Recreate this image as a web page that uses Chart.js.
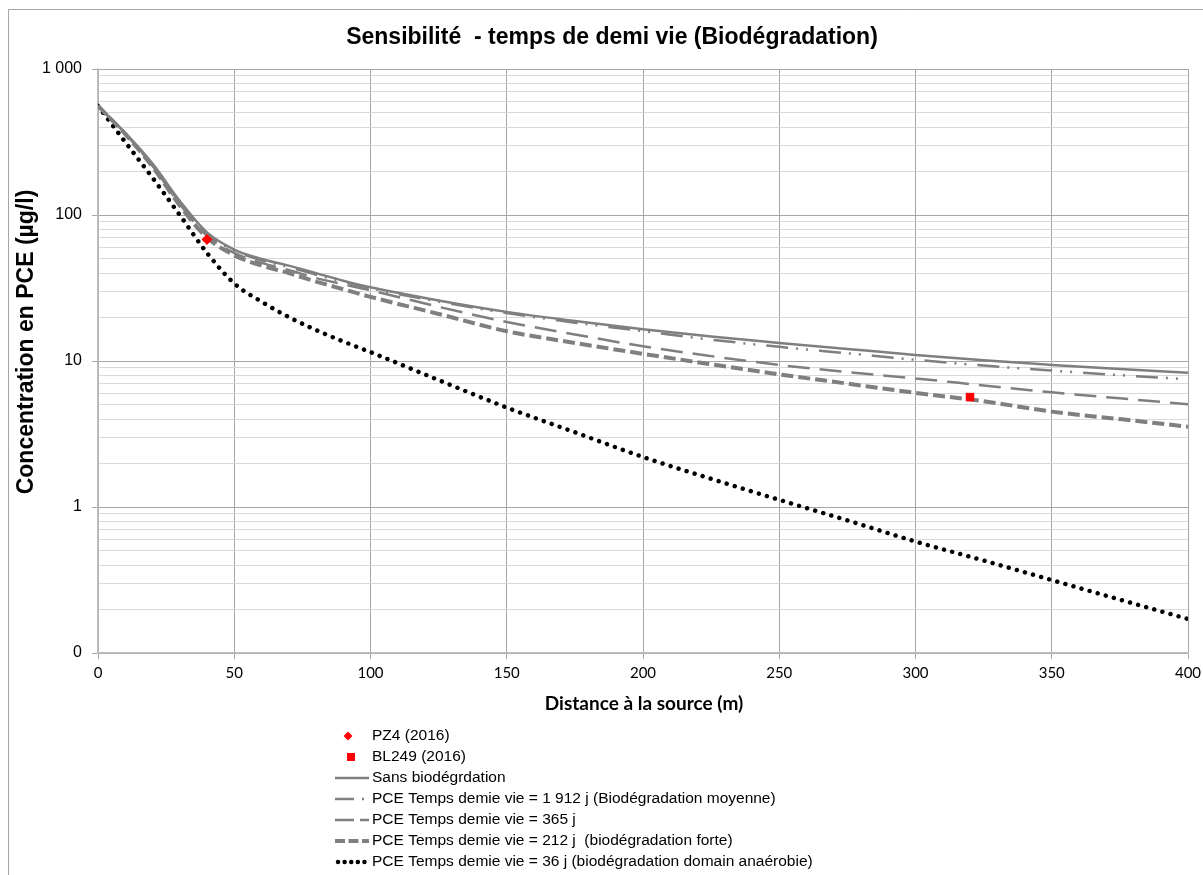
<!DOCTYPE html>
<html>
<head>
<meta charset="utf-8">
<script src="https://cdn.jsdelivr.net/npm/chart.js@4/dist/chart.umd.min.js"></script>
<style>
  html, body { margin: 0; padding: 0; background: #fff; }
  #wrap { width: 1203px; height: 875px; }
</style>
</head>
<body>
<div id="wrap"><canvas id="graf" width="1203" height="875"></canvas></div>
<script>
// distances (m)
const distances = [0, 10, 20, 30, 40, 50, 60, 70, 80, 90, 100, 125, 150, 175, 200, 225, 250, 275, 300, 325, 350, 375, 400];

// concentrations (µg/l)
const sansBio   = [558, 365, 225, 125, 76, 58, 50, 45, 40, 35.5, 32, 26, 21.7, 18.8, 16.5, 14.7, 13.3, 12.1, 11, 10.1, 9.4, 8.8, 8.3];
const demi1912  = [558, 362, 220, 122, 74, 57, 49, 44, 39, 35, 31.5, 25.5, 21.3, 18.3, 16, 14, 12.5, 11.3, 10.2, 9.3, 8.6, 8, 7.5];
const demi365   = [558, 360, 217, 119, 72, 55, 47, 42, 37, 33.5, 30.5, 23.5, 18.5, 15.2, 12.6, 10.8, 9.4, 8.4, 7.6, 6.8, 6.1, 5.55, 5.05];
const demi212   = [558, 358, 214, 116, 70, 53, 45, 40, 35, 31, 27.5, 21, 16, 13.3, 11.2, 9.5, 8.1, 7, 6.05, 5.3, 4.5, 4, 3.55];
const demi36    = [558, 316, 180, 100, 55, 34, 25.5, 20, 16.3, 13.6, 11.5, 7.4, 4.8, 3.25, 2.2, 1.56, 1.12, 0.81, 0.58, 0.43, 0.316, 0.232, 0.171];

// mesures 2016
const pz4   = [{ x: 40, y: 68 }];
const bl249 = [{ x: 320, y: 5.66 }];

// graduations de l'axe Y
const yMajorTicks  = [0.1, 1, 10, 100, 1000];
const yMajorLabels = ['0', '1', '10', '100', '1 000'];

const titre = 'Sensibilité  - temps de demi vie (Biodégradation)';
const titreY = 'Concentration en PCE (µg/l)';
const titreX = 'Distance à la source (m)';

function pts(vals) {
  return distances.map((d, i) => ({ x: d, y: vals[i] }));
}

function isMajor(v) {
  return yMajorTicks.some(m => Math.abs(m - v) / m < 1e-6);
}

const gris = '#7f7f7f';

const datasets = [
  { label: 'PZ4 (2016)', type: 'scatter', data: pz4, pointStyle: 'rectRot', pointRadius: 5.5,
    backgroundColor: '#ff0000', borderColor: '#ff0000', borderWidth: 0 },
  { label: 'BL249 (2016)', type: 'scatter', data: bl249, pointStyle: 'rect', pointRadius: 6,
    backgroundColor: '#ff0000', borderColor: '#ff0000', borderWidth: 0 },
  { label: 'Sans biodégrdation', data: pts(sansBio), borderColor: gris, borderWidth: 2.5, borderDash: [],
    legendDash: [] },
  { label: 'PCE Temps demie vie = 1 912 j (Biodégradation moyenne)', data: pts(demi1912), borderColor: gris,
    borderWidth: 2.5, borderDash: [22, 8, 2, 8, 2, 11], legendDash: [19, 8, 2, 100] },
  { label: 'PCE Temps demie vie = 365 j', data: pts(demi365), borderColor: gris, borderWidth: 2.5, borderDash: [22, 10],
    legendDash: [19, 6, 9, 100] },
  { label: 'PCE Temps demie vie = 212 j  (biodégradation forte)', data: pts(demi212), borderColor: gris,
    borderWidth: 4, borderDash: [12, 5], legendDash: [10, 3.5] },
  { label: 'PCE Temps demie vie = 36 j (biodégradation domain anaérobie)', data: pts(demi36), borderColor: '#000000',
    borderWidth: 4.5, borderDash: [0.01, 8.4], borderCapStyle: 'round', legendDash: [0.01, 6.6] }
];

datasets.forEach(ds => {
  if (!ds.type) {
    ds.type = 'line';
    ds.pointRadius = 0;
    ds.fill = false;
    ds.cubicInterpolationMode = 'monotone';
  }
});

// titres, cadre et légende dessinés à la main
const decor = {
  id: 'decor',
  afterDraw(chart) {
    const ctx = chart.ctx;
    ctx.save();
    ctx.strokeStyle = '#a6a6a6';
    ctx.lineWidth = 1;
    ctx.beginPath();
    ctx.moveTo(8.5, 875);
    ctx.lineTo(8.5, 9.5);
    ctx.lineTo(1203, 9.5);
    ctx.stroke();

    ctx.fillStyle = '#000';
    ctx.textAlign = 'center';
    ctx.textBaseline = 'middle';
    ctx.font = 'bold 23px "Liberation Sans", Arial, sans-serif';
    ctx.fillText(titre, 612, 38);

    ctx.font = 'bold 19px Lato, sans-serif';
    ctx.fillText(titreX, 644, 704);

    ctx.save();
    ctx.translate(27, 342);
    ctx.rotate(-Math.PI / 2);
    ctx.font = 'bold 23px "Liberation Sans", Arial, sans-serif';
    ctx.fillText(titreY, 0, 0);
    ctx.restore();

    // légende
    ctx.font = '15.5px "Liberation Sans", Arial, sans-serif';
    ctx.textAlign = 'left';
    chart.data.datasets.forEach((ds, i) => {
      const y = 736 + i * 21;
      if (ds.type === 'scatter') {
        ctx.fillStyle = ds.backgroundColor;
        if (ds.pointStyle === 'rect') {
          ctx.fillRect(347, y - 4, 8, 8);
        } else {
          ctx.beginPath();
          ctx.moveTo(348, y - 4.5);
          ctx.lineTo(352.5, y);
          ctx.lineTo(348, y + 4.5);
          ctx.lineTo(343.5, y);
          ctx.closePath();
          ctx.fill();
        }
      } else {
        ctx.strokeStyle = ds.borderColor;
        ctx.lineWidth = ds.borderWidth;
        ctx.setLineDash(ds.legendDash);
        ctx.lineCap = ds.borderCapStyle || 'butt';
        ctx.beginPath();
        ctx.moveTo(ds.borderCapStyle === 'round' ? 338 : 335, y);
        ctx.lineTo(369, y);
        ctx.stroke();
        ctx.setLineDash([]);
      }
      ctx.fillStyle = '#000';
      ctx.fillText(ds.label, 372, y);
    });
    ctx.restore();
  }
};

new Chart(document.getElementById('graf').getContext('2d'), {
  type: 'line',
  data: { datasets: datasets },
  options: {
    responsive: false,
    animation: false,
    layout: { padding: { left: 10, right: 15, top: 69, bottom: 192 } },
    plugins: { legend: { display: false }, title: { display: false }, tooltip: { enabled: false } },
    scales: {
      x: {
        type: 'linear',
        min: 0,
        max: 400,
        afterFit: s => { s.height = 30; s.paddingLeft = 0; s.paddingRight = 0; },
        ticks: { stepSize: 50, color: '#000', padding: 5, font: { family: 'Lato, sans-serif', size: 15 } },
        grid: { color: '#a6a6a6', lineWidth: 1, tickLength: 6, tickColor: '#a6a6a6' },
        border: { color: '#bfbfbf', width: 1.5 }
      },
      y: {
        type: 'logarithmic',
        min: 0.1,
        max: 1000,
        afterFit: s => { s.width = 88; s.paddingTop = 0; s.paddingBottom = 0; },
        afterBuildTicks: s => {
          const t = [];
          [0.1, 1, 10, 100].forEach(d => {
            for (let k = 1; k <= 9; k++) t.push({ value: +(d * k).toPrecision(6) });
          });
          t.push({ value: 1000 });
          s.ticks = t;
        },
        ticks: {
          autoSkip: false,
          color: '#000',
          padding: 10,
          font: { family: '"Liberation Sans", Arial, sans-serif', size: 16 },
          callback: v => {
            const i = yMajorTicks.findIndex(m => Math.abs(m - v) / m < 1e-6);
            return i >= 0 ? yMajorLabels[i] : '';
          }
        },
        grid: {
          lineWidth: 1,
          tickLength: 6,
          color: c => isMajor(c.tick.value) ? '#a6a6a6' : '#d9d9d9',
          tickColor: c => isMajor(c.tick.value) ? '#a6a6a6' : 'rgba(0,0,0,0)'
        },
        border: { color: '#bfbfbf', width: 1.5 }
      }
    }
  },
  plugins: [decor]
});
</script>
</body>
</html>
